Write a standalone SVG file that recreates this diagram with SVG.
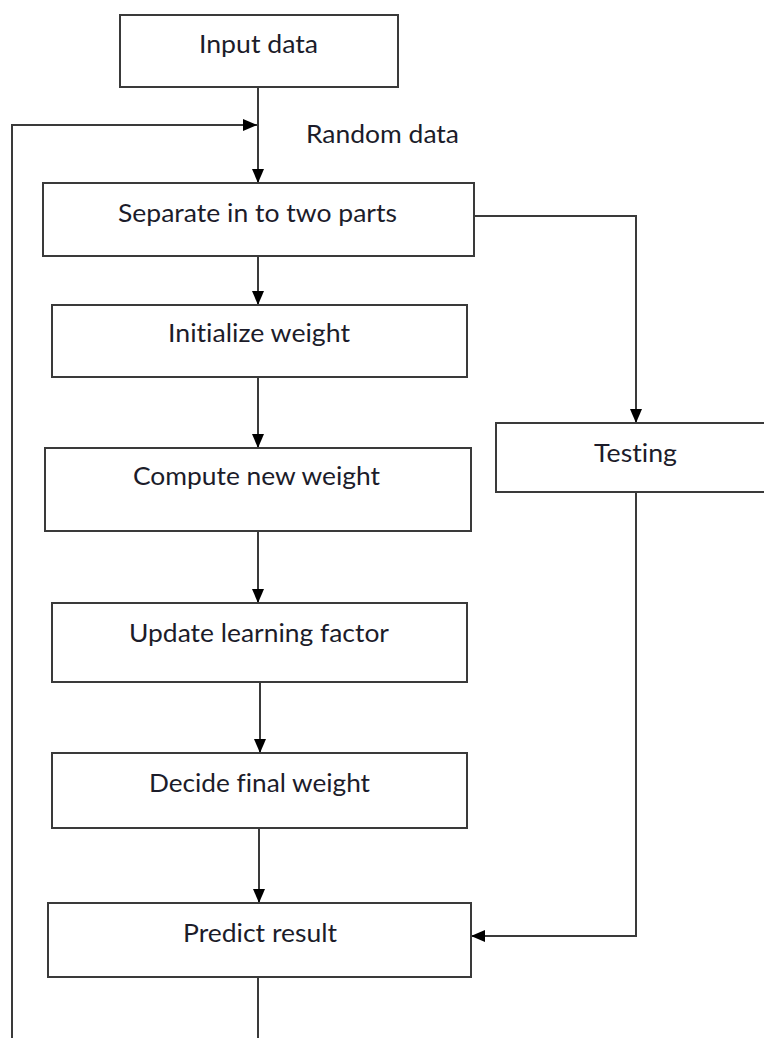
<svg xmlns="http://www.w3.org/2000/svg" width="764" height="1038" viewBox="0 0 764 1038">
<style>
.box{fill:#fff;stroke:#3a3a3a;stroke-width:2}
.lbl{font-family:Lato,"Open Sans","Liberation Sans",sans-serif;font-size:25px;fill:#1c1c2a;text-anchor:middle;font-variant-ligatures:none}
.con{fill:none;stroke:#3a3a3a;stroke-width:2}
</style>
<defs>
<marker id="arr" markerUnits="userSpaceOnUse" markerWidth="14" markerHeight="12" refX="14" refY="6" orient="auto">
<path d="M0,0 L14,6 L0,12 z" fill="#000"/>
</marker>
</defs>
<rect width="764" height="1038" fill="#fff"/>
<g id="connectors">
<path class="con" d="M258,87 V183" marker-end="url(#arr)"/>
<path class="con" d="M258,977 V1050 H12 V125 H257" marker-end="url(#arr)"/>
<path class="con" d="M258,256 V305" marker-end="url(#arr)"/>
<path class="con" d="M474,216 H636 V423" marker-end="url(#arr)"/>
<path class="con" d="M258,377 V448" marker-end="url(#arr)"/>
<path class="con" d="M258,531 V603" marker-end="url(#arr)"/>
<path class="con" d="M260,682 V753" marker-end="url(#arr)"/>
<path class="con" d="M259,828 V903" marker-end="url(#arr)"/>
<path class="con" d="M636,492 V936 H471" marker-end="url(#arr)"/>
</g>
<g id="input">
<rect class="box" x="120" y="15" width="278" height="72"/>
<text class="lbl" x="258.5" y="53" textLength="119" lengthAdjust="spacingAndGlyphs">Input data</text>
</g>
<g id="random-label">
<text class="lbl" x="382.5" y="143" textLength="153" lengthAdjust="spacingAndGlyphs">Random data</text>
</g>
<g id="separate">
<rect class="box" x="43" y="183" width="431" height="73"/>
<text class="lbl" x="257.5" y="222" textLength="279" lengthAdjust="spacingAndGlyphs">Separate in to two parts</text>
</g>
<g id="initialize">
<rect class="box" x="52" y="305" width="415" height="72"/>
<text class="lbl" x="259" y="342" textLength="182" lengthAdjust="spacingAndGlyphs">Initialize weight</text>
</g>
<g id="compute">
<rect class="box" x="45" y="448" width="426" height="83"/>
<text class="lbl" x="256.5" y="485" textLength="247" lengthAdjust="spacingAndGlyphs">Compute new weight</text>
</g>
<g id="update">
<rect class="box" x="52" y="603" width="415" height="79"/>
<text class="lbl" x="259" y="642" textLength="260" lengthAdjust="spacingAndGlyphs">Update learning factor</text>
</g>
<g id="decide">
<rect class="box" x="52" y="753" width="415" height="75"/>
<text class="lbl" x="259.5" y="792" textLength="221" lengthAdjust="spacingAndGlyphs">Decide final weight</text>
</g>
<g id="predict">
<rect class="box" x="48" y="903" width="423" height="74"/>
<text class="lbl" x="260" y="942" textLength="154" lengthAdjust="spacingAndGlyphs">Predict result</text>
</g>
<g id="testing">
<rect class="box" x="496" y="423" width="280" height="69"/>
<text class="lbl" x="635.5" y="462" textLength="83" lengthAdjust="spacingAndGlyphs">Testing</text>
</g>
</svg>
